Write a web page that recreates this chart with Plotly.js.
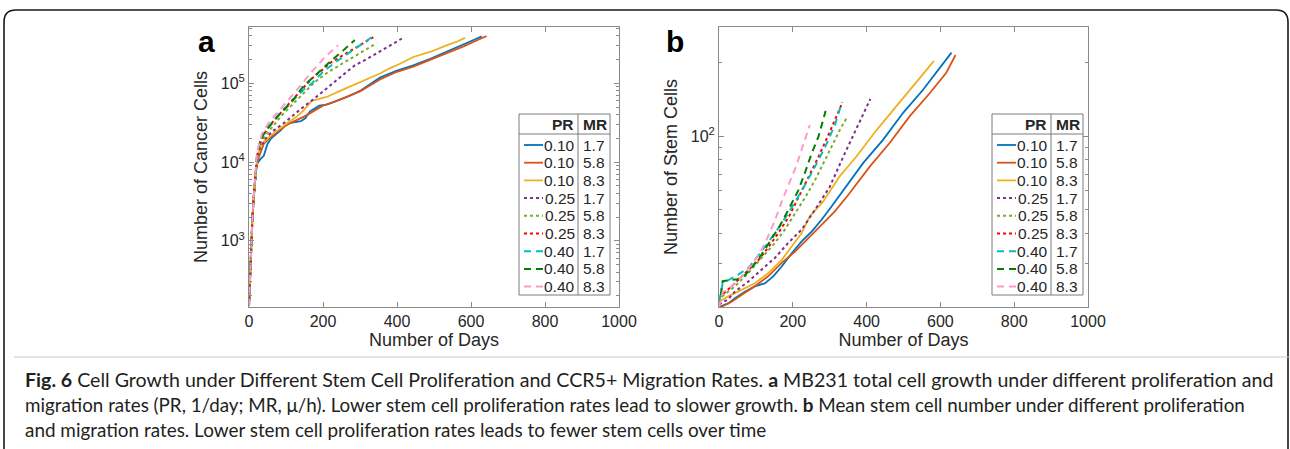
<!DOCTYPE html>
<html><head><meta charset="utf-8">
<script src="https://cdn.plot.ly/plotly-3.0.1.min.js"></script>
<style>html,body{margin:0;padding:0;background:#fff}#chart{width:1290px;height:449px}</style>
</head><body><div id="chart"></div>
<script>
// ---------- data ----------
const PR = ['0.10','0.10','0.10','0.25','0.25','0.25','0.40','0.40','0.40'];
const MR = ['1.7','5.8','8.3','1.7','5.8','8.3','1.7','5.8','8.3'];
const xTickVals = [0,200,400,600,800,1000];
const cancerTickVals = [1e3,1e4,1e5];
const cancerTickText = ['10<sup>3</sup>','10<sup>4</sup>','10<sup>5</sup>'];
const stemTickVals = [100];
const stemTickText = ['10<sup>2</sup>'];

// panel a: number of cancer cells
const cancerDays1 = [0,3,6,9,12,15,18,22,30,40,50,60,70,85,100,120,140,152,165,190,210,230,265,300,354,400,444,490,534,580,610,629];
const cancerCells1 = [150,400,900,1800,3200,5000,7000,9500,10800,12000,17000,20000,22000,25000,30000,32000,33000,36000,44000,52000,53500,58000,67000,80000,118000,145000,169000,205000,250000,310000,360000,395000];
const cancerDays2 = [0,3,6,9,12,15,18,22,30,40,55,70,90,110,130,150,170,200,230,265,300,354,400,444,490,534,580,624,642];
const cancerCells2 = [150,400,900,1800,3200,5000,7200,10000,13000,17000,20000,23000,27000,31000,34000,38000,43000,52000,58000,67000,79000,112000,140000,163000,198000,240000,295000,365000,398000];
const cancerDays3 = [0,3,6,9,12,15,18,22,30,40,60,84,110,130,147,170,190,210,246,291,320,354,380,408,444,489,534,560,584];
const cancerCells3 = [150,400,900,1800,3200,5000,7500,11000,15000,18000,22000,27000,33000,38000,45000,60000,64000,67000,80000,99000,115000,133000,155000,177000,216000,250000,304000,335000,377000];
const cancerDays4 = [0,3,6,9,12,15,18,22,30,45,61,97,142,187,241,286,320,350,380,413];
const cancerCells4 = [150,400,900,1800,3200,5000,7500,11000,15000,20000,24000,32000,48000,70000,114000,169000,205000,249000,300000,370000];
const cancerDays5 = [0,3,6,9,12,15,18,22,30,52,88,133,178,214,259,305,345];
const cancerCells5 = [150,400,900,1800,3200,5000,7800,11500,17000,24000,39000,64000,104000,139000,186000,249000,324000];
const cancerDays6 = [0,3,6,9,12,15,18,22,30,50,79,124,169,223,268,305,336];
const cancerCells6 = [150,400,900,1800,3200,5000,8000,12000,18000,27000,39000,67000,114000,186000,249000,316000,385000];
const cancerDays7 = [0,3,6,9,12,15,18,22,30,50,80,120,150,170,200,230,268,305,334];
const cancerCells7 = [150,400,900,1800,3200,5000,8000,12000,19000,27000,40000,62000,85000,100000,140000,180000,240000,310000,392000];
const cancerDays8 = [0,3,6,9,12,15,18,22,35,57,84,115,147,178,201,228,255,286];
const cancerCells8 = [150,400,900,1800,3200,5000,8200,13000,21000,29000,41000,58000,92000,125000,161000,205000,262000,355000];
const cancerDays9 = [0,3,6,9,12,15,18,22,35,50,70,102,133,169,205,241];
const cancerCells9 = [150,400,900,1800,3200,5000,8500,13500,23000,30000,39000,58000,86000,139000,215000,305000];

// panel b: number of stem cells
const stemDays1 = [0,25,43,70,97,124,147,170,197,224,251,278,305,334,391,445,499,553,589,630];
const stemCells1 = [20,20.7,21.7,23.1,24.3,25,26.7,29.3,33.2,37.1,40.7,45.5,51.6,59.5,77.8,96.9,124.7,155,182,220];
const stemDays2 = [0,34,61,97,133,170,206,242,278,314,350,409,463,517,571,616,641];
const stemCells2 = [19.8,21,22.4,24.3,26.7,30.3,33.7,38.3,43.4,49.3,57.5,75.3,94,120.8,150,182,215];
const stemDays3 = [0,25,61,97,133,170,197,224,246,282,327,373,427,481,535,582];
const stemCells3 = [21,22.1,23.5,25,27.5,31.2,35.4,40.2,47,54,68.5,82.8,106,133,165.5,203];
const stemDays4 = [0,25,43,79,115,151,187,224,260,300,336,373,410];
const stemCells4 = [20.5,21.5,23.1,25.4,28.4,31.7,36.5,41.5,50,62,82,108,142];
const stemDays5 = [0,7,43,79,115,151,178,206,233,260,287,314,330,345];
const stemCells5 = [21,22,24.3,27.5,31.7,36.5,41.4,48,56,66,80,96,108,118];
const stemDays6 = [0,3,34,70,106,133,160,190,215,242,269,300,320,335];
const stemCells6 = [20.5,22,24.3,27.5,31,35,40,47,56,67,82,104,122,138];
const stemDays7 = [0,10,30,50,80,110,140,170,200,230,260,290,315,333];
const stemCells7 = [21,25,26,27,29,33,38,44,52,62,75,92,112,138];
const stemDays8 = [0,5,10,30,50,65,85,115,142,165,188,215,233,251,270,289];
const stemCells8 = [20,23,25.5,25.8,26,26.5,28.5,32.7,37.7,43,50,60,71,85,100,127];
const stemDays9 = [0,10,30,50,70,90,110,130,151,170,190,210,228,246];
const stemCells9 = [20,23,24,25.5,27.5,30,33,38,45,54,64,76,92,111];

// ---------- styles ----------
const W = 1290, H = 449;
const colors = ['#0072BD','#D95319','#EDB120','#7E2F8E','#77AC30','#FF0000','#00BFBF','#008000','#FF99CC'];
const dashes = ['solid','solid','solid','dot','dot','dot','7px,5px','7px,5px','7px,5px'];
const widths = [1.8,1.8,1.8,2,2,2,2,2,2];
const txt = '#262626';
const axc = '#8a8a8a';
const font = 'Liberation Sans, Arial, sans-serif';
const px = x => x / W;
const py = y => 1 - y / H;

const cancerX = [cancerDays1,cancerDays2,cancerDays3,cancerDays4,cancerDays5,cancerDays6,cancerDays7,cancerDays8,cancerDays9];
const cancerY = [cancerCells1,cancerCells2,cancerCells3,cancerCells4,cancerCells5,cancerCells6,cancerCells7,cancerCells8,cancerCells9];
const stemX = [stemDays1,stemDays2,stemDays3,stemDays4,stemDays5,stemDays6,stemDays7,stemDays8,stemDays9];
const stemY = [stemCells1,stemCells2,stemCells3,stemCells4,stemCells5,stemCells6,stemCells7,stemCells8,stemCells9];

const traces = [];
for (let i = 0; i < 9; i++) {
  traces.push({x: cancerX[i], y: cancerY[i], xaxis:'x', yaxis:'y', type:'scatter', mode:'lines',
    name: PR[i] + ' ' + MR[i], showlegend:false, hoverinfo:'skip',
    line:{color:colors[i], dash:dashes[i], width:widths[i]}});
}
for (let i = 0; i < 9; i++) {
  traces.push({x: stemX[i], y: stemY[i], xaxis:'x2', yaxis:'y2', type:'scatter', mode:'lines',
    name: PR[i] + ' ' + MR[i], showlegend:false, hoverinfo:'skip',
    line:{color:colors[i], dash:dashes[i], width:widths[i]}});
}

function minorLog(lo, hi) {
  const v = [];
  for (let d = Math.floor(Math.log10(lo)); d <= Math.ceil(Math.log10(hi)); d++) {
    for (let k = 2; k <= 9; k++) { const t = k * Math.pow(10, d); if (t >= lo && t <= hi) v.push(t); }
  }
  return v;
}

const yRangeA = [Math.log10(144), Math.log10(519000)];
const yRangeB = [Math.log10(20), Math.log10(280)];

function xAxis(dom, anchor) {
  return {domain: dom, anchor: anchor, range:[0,1000], tickvals: xTickVals, ticks:'inside', ticklen:5,
    tickcolor: axc, showline:true, linecolor: axc, linewidth:1, mirror:'ticks', showgrid:false, zeroline:false,
    tickfont:{family:font, size:16, color:txt},
    title:{text:'Number of Days', font:{family:font, size:18, color:txt}, standoff:4}};
}
function yAxis(dom, anchor, rng, tv, tt, title) {
  return {domain: dom, anchor: anchor, type:'log', range: rng, tickmode:'array', tickvals: tv, ticktext: tt,
    ticks:'inside', ticklen:5, tickcolor: axc, showline:true, linecolor: axc, linewidth:1, mirror:'ticks',
    showgrid:false, zeroline:false,
    minor:{tickmode:'array', tickvals: minorLog(Math.pow(10,rng[0]), Math.pow(10,rng[1])), ticks:'inside', ticklen:3, tickcolor: axc, showgrid:false},
    tickfont:{family:font, size:16, color:txt},
    title:{text:title, font:{family:font, size:18, color:txt}, standoff:8}};
}

const shapes = [], annotations = [];

// legend tables (one per panel)
function legendTable(x0) {
  const top = 114, hdr = 134, bot = 295, wdt = 91, div = 59;
  shapes.push({type:'rect', xref:'paper', yref:'paper', x0:px(x0), x1:px(x0+wdt), y0:py(bot), y1:py(top),
    line:{color:'#7a7a7a', width:1}, fillcolor:'#ffffff', layer:'above'});
  shapes.push({type:'line', xref:'paper', yref:'paper', x0:px(x0+div), x1:px(x0+div), y0:py(bot), y1:py(top),
    line:{color:'#7a7a7a', width:1}, layer:'above'});
  shapes.push({type:'line', xref:'paper', yref:'paper', x0:px(x0), x1:px(x0+wdt), y0:py(hdr), y1:py(hdr),
    line:{color:'#7a7a7a', width:1}, layer:'above'});
  annotations.push({xref:'paper', yref:'paper', x:px(x0+57), y:py(125), xanchor:'right', yanchor:'middle', showarrow:false,
    text:'<b>PR</b>', font:{family:font, size:15.5, color:txt}});
  annotations.push({xref:'paper', yref:'paper', x:px(x0+76), y:py(125), xanchor:'center', yanchor:'middle', showarrow:false,
    text:'<b>MR</b>', font:{family:font, size:15.5, color:txt}});
  for (let i = 0; i < 9; i++) {
    const yy = 145 + i * 17.7;
    shapes.push({type:'line', xref:'paper', yref:'paper', x0:px(x0+5), x1:px(x0+24), y0:py(yy), y1:py(yy),
      line:{color:colors[i], dash:dashes[i], width:widths[i]}, layer:'above'});
    annotations.push({xref:'paper', yref:'paper', x:px(x0+58), y:py(yy), xanchor:'right', yanchor:'middle', showarrow:false,
      text:PR[i], font:{family:font, size:15.5, color:txt}});
    annotations.push({xref:'paper', yref:'paper', x:px(x0+62), y:py(yy), xanchor:'left', yanchor:'middle', showarrow:false,
      text:MR[i], font:{family:font, size:15.5, color:txt}});
  }
}
legendTable(519);
legendTable(992);

// panel letters
annotations.push({xref:'paper', yref:'paper', x:px(196), y:py(41), xanchor:'left', yanchor:'middle', showarrow:false,
  text:'<b>a</b>', font:{family:font, size:30, color:'#000'}});
annotations.push({xref:'paper', yref:'paper', x:px(664), y:py(41), xanchor:'left', yanchor:'middle', showarrow:false,
  text:'<b>b</b>', font:{family:font, size:30, color:'#000'}});

// frame & separator
shapes.push({type:'path', xref:'paper', yref:'paper',
  path:'M' + px(4) + ',' + py(449) + ' L' + px(4) + ',' + py(22) + ' Q' + px(4) + ',' + py(10) + ' ' + px(16) + ',' + py(10) +
       ' L' + px(1276) + ',' + py(10) + ' Q' + px(1288) + ',' + py(10) + ' ' + px(1288) + ',' + py(22) + ' L' + px(1288) + ',' + py(449),
  line:{color:'#1a1a1a', width:1.6}});
shapes.push({type:'line', xref:'paper', yref:'paper', x0:px(14), x1:px(1290), y0:py(357), y1:py(357), line:{color:'#c8c8c8', width:1}});

// caption
const capSizes = [19.6, 18.8, 18.9];
const capLines = [
  '<b>Fig. 6</b> Cell Growth under Different Stem Cell Proliferation and CCR5+ Migration Rates. <b>a</b> MB231 total cell growth under different proliferation and',
  'migration rates (PR, 1/day; MR, μ/h). Lower stem cell proliferation rates lead to slower growth. <b>b</b> Mean stem cell number under different proliferation',
  'and migration rates. Lower stem cell proliferation rates leads to fewer stem cells over time'
];
const capY = [379, 404, 429];
capLines.forEach((t, i) => annotations.push({xref:'paper', yref:'paper', x:px(23), y:py(capY[i]), xanchor:'left', yanchor:'middle',
  showarrow:false, text:t, font:{family:'Lato, Open Sans, sans-serif', size:capSizes[i], color:'#231f20'}}));

const layout = {
  width: W, height: H, margin:{l:0, r:0, t:0, b:0}, paper_bgcolor:'#fff', plot_bgcolor:'#fff', showlegend:false,
  xaxis: xAxis([px(249), px(619)], 'y'),
  yaxis: yAxis([py(307), py(27)], 'x', yRangeA, cancerTickVals, cancerTickText, 'Number of Cancer Cells'),
  xaxis2: xAxis([px(719), px(1088)], 'y2'),
  yaxis2: yAxis([py(307), py(27)], 'x2', yRangeB, stemTickVals, stemTickText, 'Number of Stem Cells'),
  shapes: shapes, annotations: annotations
};
Plotly.newPlot('chart', traces, layout, {staticPlot:true, displayModeBar:false});
</script></body></html>
